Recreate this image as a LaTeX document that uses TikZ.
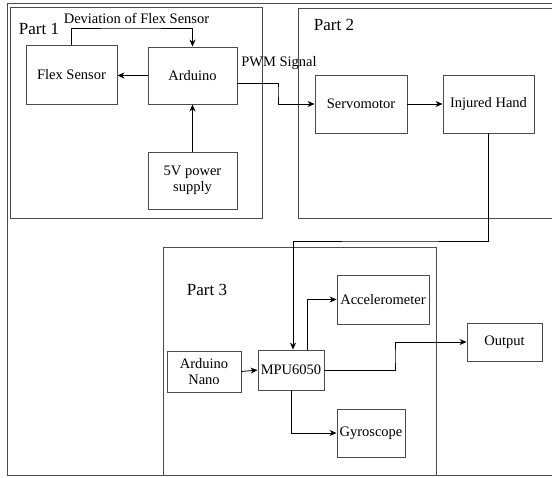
\documentclass[tikz,border=0pt]{standalone}
\usepackage{fontspec}
\setmainfont{Liberation Serif}
\usetikzlibrary{arrows.meta}
\usetikzlibrary{calc}

\begin{document}
\begin{tikzpicture}[x=1pt,y=-1pt,
    blk/.style={draw=black!70,line width=0.9pt,inner sep=0pt,align=center,
      font=\fontsize{14.5}{16}\selectfont},
    arr/.style={line width=0.8pt,-{Stealth[length=7pt,width=6pt]}},
    part/.style={font=\fontsize{17}{19}\selectfont},
    lbl/.style={font=\fontsize{14.5}{16}\selectfont,inner sep=0pt}]
          \useasboundingbox (0,0) rectangle (552,477);
          % frames
          \draw[black!70,line width=0.9pt] (552,3) -- (7,3) -- (7,475) -- (552,475);
          \draw[black!70,line width=0.9pt] (10,7) rectangle (262,218);
          \draw[black!70,line width=0.9pt] (552,8) -- (298,8) -- (298,218) -- (552,218);
          \draw[black!70,line width=0.9pt] (163,247) rectangle (436,475);
          \node[part] (P1) at (39,29) {Part 1};
          \node[part] (P2) at (334,25) {Part 2};
          \node[part] (P3) at (207,290) {Part 3};
          % part 1
          \node[blk,minimum width=91,minimum height=59] (Flex) at (71.5,74.5) {Flex Sensor};
          \node[blk,minimum width=89,minimum height=57] (Ard) at (192.5,75.5) {Arduino};
          \node[blk,minimum width=89,minimum height=57] (Pwr) at (192.5,180.5) {5V power\\supply};
          \coordinate (DevBend) at (130,28);
          \draw[arr] (Flex.north) |- (DevBend) -| (Ard.north);
          \node[lbl] (Dev) at (136.5,18) {Deviation of Flex Sensor};
          \draw[arr] (Ard.west) -- (Flex.east |- Ard.west);
          \draw[arr] (Pwr.north) -- (Ard.south);
          % part 2
          \node[blk,minimum width=92,minimum height=58] (Servo) at (361,104) {Servomotor};
          \node[blk,minimum width=91,minimum height=58] (Hand) at (488.5,104) {Injured Hand};
          \coordinate (PwmBend) at (278,90);
          \draw[arr] ([yshift=-7.5pt]Ard.east) -| (PwmBend) |- (Servo.west);
          \node[lbl] (Pwm) at (279,63) {PWM Signal};
          \draw[arr] (Servo.east) -- (Hand.west);
          % part 3
          \node[blk,minimum width=74,minimum height=41] (Nano) at (204,371.5) {Arduino\\Nano};
          \node[blk,minimum width=66,minimum height=40] (MPU) at (291,370) {MPU6050};
          \node[blk,minimum width=92,minimum height=49] (Acc) at (383,299.5) {Accelerometer};
          \node[blk,minimum width=68,minimum height=48] (Gyro) at (371,433) {Gyroscope};
          \node[blk,minimum width=75,minimum height=38] (Out) at (504.5,342) {Output};
          \coordinate (HandBend) at (390,241);
          \draw[arr] (Hand.south) |- (HandBend) -| ([xshift=2pt]MPU.north);
          \draw[arr] (Nano.east) -- (MPU.west);
          \draw[arr] ([xshift=16pt]MPU.north) |- (Acc.west);
          \draw[arr] (MPU.south) |- (Gyro.west);
          \coordinate (OutBend) at (395,356);
          \draw[arr] (MPU.east) -| (OutBend) |- (Out.west);
        \end{tikzpicture}
\end{document}
